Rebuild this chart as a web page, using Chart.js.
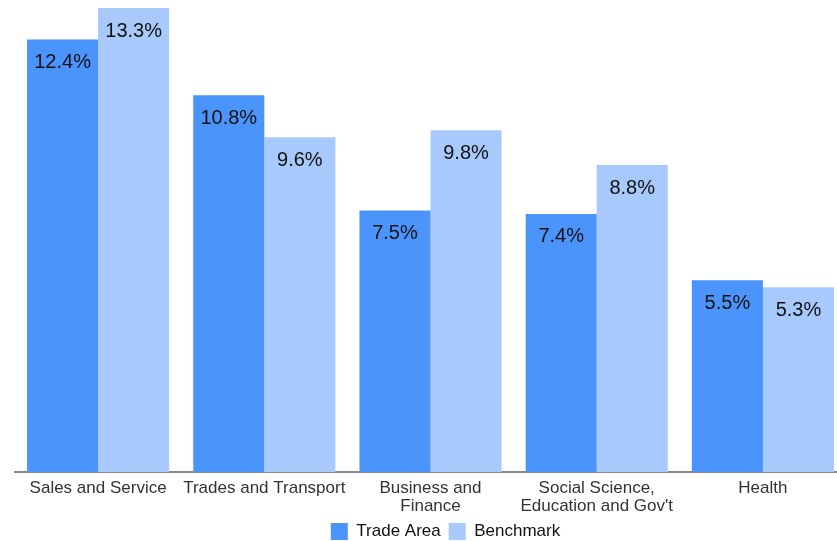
<!DOCTYPE html>
<html><head><meta charset="utf-8">
<script src="https://cdn.jsdelivr.net/npm/chart.js@4"></script>
<style>html,body{margin:0;padding:0;background:#fff;overflow:hidden}#wrap{width:846px;height:541px}</style>
</head><body><div id="wrap"><canvas id="c"></canvas></div>
<script>
const categories = [["Sales and Service"], ["Trades and Transport"], ["Business and", "Finance"], ["Social Science,", "Education and Gov't"], ["Health"]];
const tradeArea = [12.4, 10.8, 7.5, 7.4, 5.5];
const benchmark = [13.3, 9.6, 9.8, 8.8, 5.3];
const seriesNames = ["Trade Area", "Benchmark"];

const valueLabels = {
  id: 'valueLabels',
  afterLayout(chart) {
    if (chart.legend) { chart.legend.left += 15; chart.legend.right += 15; }
  },
  afterDatasetsDraw(chart) {
    const ctx = chart.ctx;
    ctx.save();
    ctx.font = '20px "Liberation Sans", Arial, sans-serif';
    ctx.fillStyle = '#111';
    ctx.textAlign = 'center';
    ctx.textBaseline = 'middle';
    chart.data.datasets.forEach((ds, i) => {
      chart.getDatasetMeta(i).data.forEach((bar, j) => {
        ctx.fillText(ds.data[j].toFixed(1) + '%', bar.x, bar.y + 23);
      });
    });
    ctx.restore();
  }
};

new Chart(document.getElementById('c'), {
  type: 'bar',
  data: {
    labels: categories,
    datasets: [
      { label: seriesNames[0], data: tradeArea, backgroundColor: '#4A94FC' },
      { label: seriesNames[1], data: benchmark, backgroundColor: '#A7C9FC' }
    ]
  },
  options: {
    responsive: true, maintainAspectRatio: false, animation: false,
    layout: { padding: { left: 15, right: 0, top: 8, bottom: -9 } },
    datasets: { bar: { categoryPercentage: 0.855, barPercentage: 1.0 } },
    scales: {
      x: {
        grid: { display: false, drawTicks: false },
        border: { display: true, color: '#888', width: 2 },
        ticks: { color: '#333', font: { family: '"Liberation Sans", Arial, sans-serif', size: 17, lineHeight: 1.05 }, padding: 7, maxRotation: 0, autoSkip: false },
        afterFit(scale) { scale.height -= 7; }
      },
      y: { display: false, min: 0, max: 13.3 }
    },
    plugins: {
      legend: {
        position: 'bottom',
        labels: { boxWidth: 17, boxHeight: 17, padding: 8, color: '#111', font: { family: '"Liberation Sans", Arial, sans-serif', size: 17 } }
      },
      tooltip: { enabled: false }
    }
  },
  plugins: [valueLabels]
});
</script></body></html>
